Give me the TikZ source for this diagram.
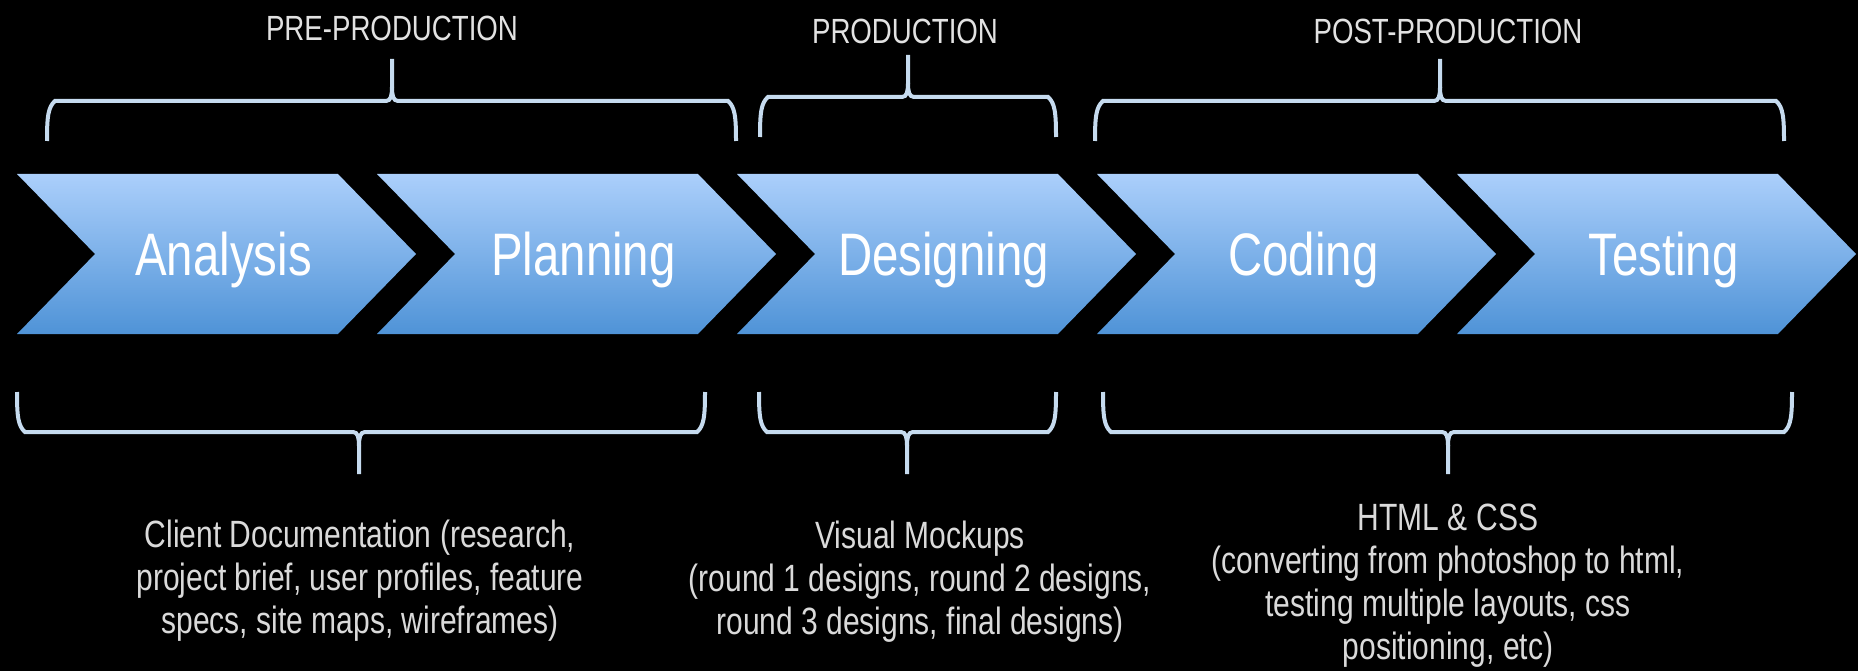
\documentclass[tikz,border=0pt]{standalone}
\usepackage{fontspec}
\setmainfont{Liberation Sans}[FakeStretch=0.79]
\usepackage{xcolor}
\usepackage{tikz}
\usetikzlibrary{shapes.symbols,positioning}

\definecolor{phasetop}{HTML}{ABCFFB}
\definecolor{phasebot}{HTML}{4F93D7}
\definecolor{bracecol}{HTML}{C6DBEF}
\definecolor{stagegray}{HTML}{E2E2E2}
\definecolor{notegray}{HTML}{DADADA}

% left x, right x, tip x, end y, direction (-1 up, 1 down)
\newcommand{\phasebrace}[5]{%
  \draw[curly] (#1,#4) .. controls (#1,{#4+(#5)*24}) and ({#1+1},{#4+(#5)*34}) .. ({#1+8},{#4+(#5)*40})
    -- ({#3-6},{#4+(#5)*40}) .. controls ({#3-1},{#4+(#5)*40}) and (#3,{#4+(#5)*46}) .. (#3,{#4+(#5)*54})
    -- (#3,{#4+(#5)*82});
  \draw[curly] (#2,#4) .. controls (#2,{#4+(#5)*24}) and ({#2-1},{#4+(#5)*34}) .. ({#2-8},{#4+(#5)*40})
    -- ({#3+6},{#4+(#5)*40}) .. controls ({#3+1},{#4+(#5)*40}) and (#3,{#4+(#5)*46}) .. (#3,{#4+(#5)*54});
}

\begin{document}
\begin{tikzpicture}[
        x=1pt, y=-1pt,
        phase/.style={signal, signal from=west, signal to=east, signal pointer angle=91.4,
            minimum width=399pt, minimum height=160pt, inner sep=0pt, outer sep=0pt,
            text height=44pt, text depth=0pt, execute at begin node=\hspace*{14pt},
            top color=phasetop, bottom color=phasebot, text=white,
            font=\fontsize{60}{72}\selectfont},
        stage/.style={text=stagegray, font=\fontsize{35}{42}\selectfont},
        note/.style={text=notegray, align=center, font=\fontsize{38}{43}\selectfont},
        curly/.style={draw=bracecol, line width=4pt},
    ]
        \fill[black] (0,0) rectangle (1858,671);
        \useasboundingbox (0,0) rectangle (1858,671);

        \foreach \name/\txt [count=\i from 0] in {analysis/Analysis, planning/Planning,
                designing/Designing, coding/Coding, testing/Testing}
            \node [phase] (\name) at ({216.5+360*\i}, 254) {\txt};

        \node [stage] (pre) at (392, 28) {PRE-PRODUCTION};
        \node [stage] (prod) at (905, 31) {PRODUCTION};
        \node [stage] (post) at (1448, 31) {POST-PRODUCTION};

        \phasebrace{47}{736}{392}{141}{-1}
        \phasebrace{760}{1056}{908}{137}{-1}
        \phasebrace{1095}{1784}{1440}{141}{-1}
        \phasebrace{17}{705}{359}{392}{1}
        \phasebrace{759}{1056}{907}{392}{1}
        \phasebrace{1103}{1792}{1448}{392}{1}

        \node [note] (docs) at (360, 581) {Client Documentation (research,\\project brief, user profiles, feature\\specs, site maps, wireframes)};
        \node [note] (mockups) at (920, 582) {Visual Mockups\\(round 1 designs, round 2 designs,\\round 3 designs, final designs)};
        \node [note] (markup) at (1448, 586) {HTML \& CSS\\(converting from photoshop to html,\\testing multiple layouts, css\\positioning, etc)};
    \end{tikzpicture}
\end{document}
